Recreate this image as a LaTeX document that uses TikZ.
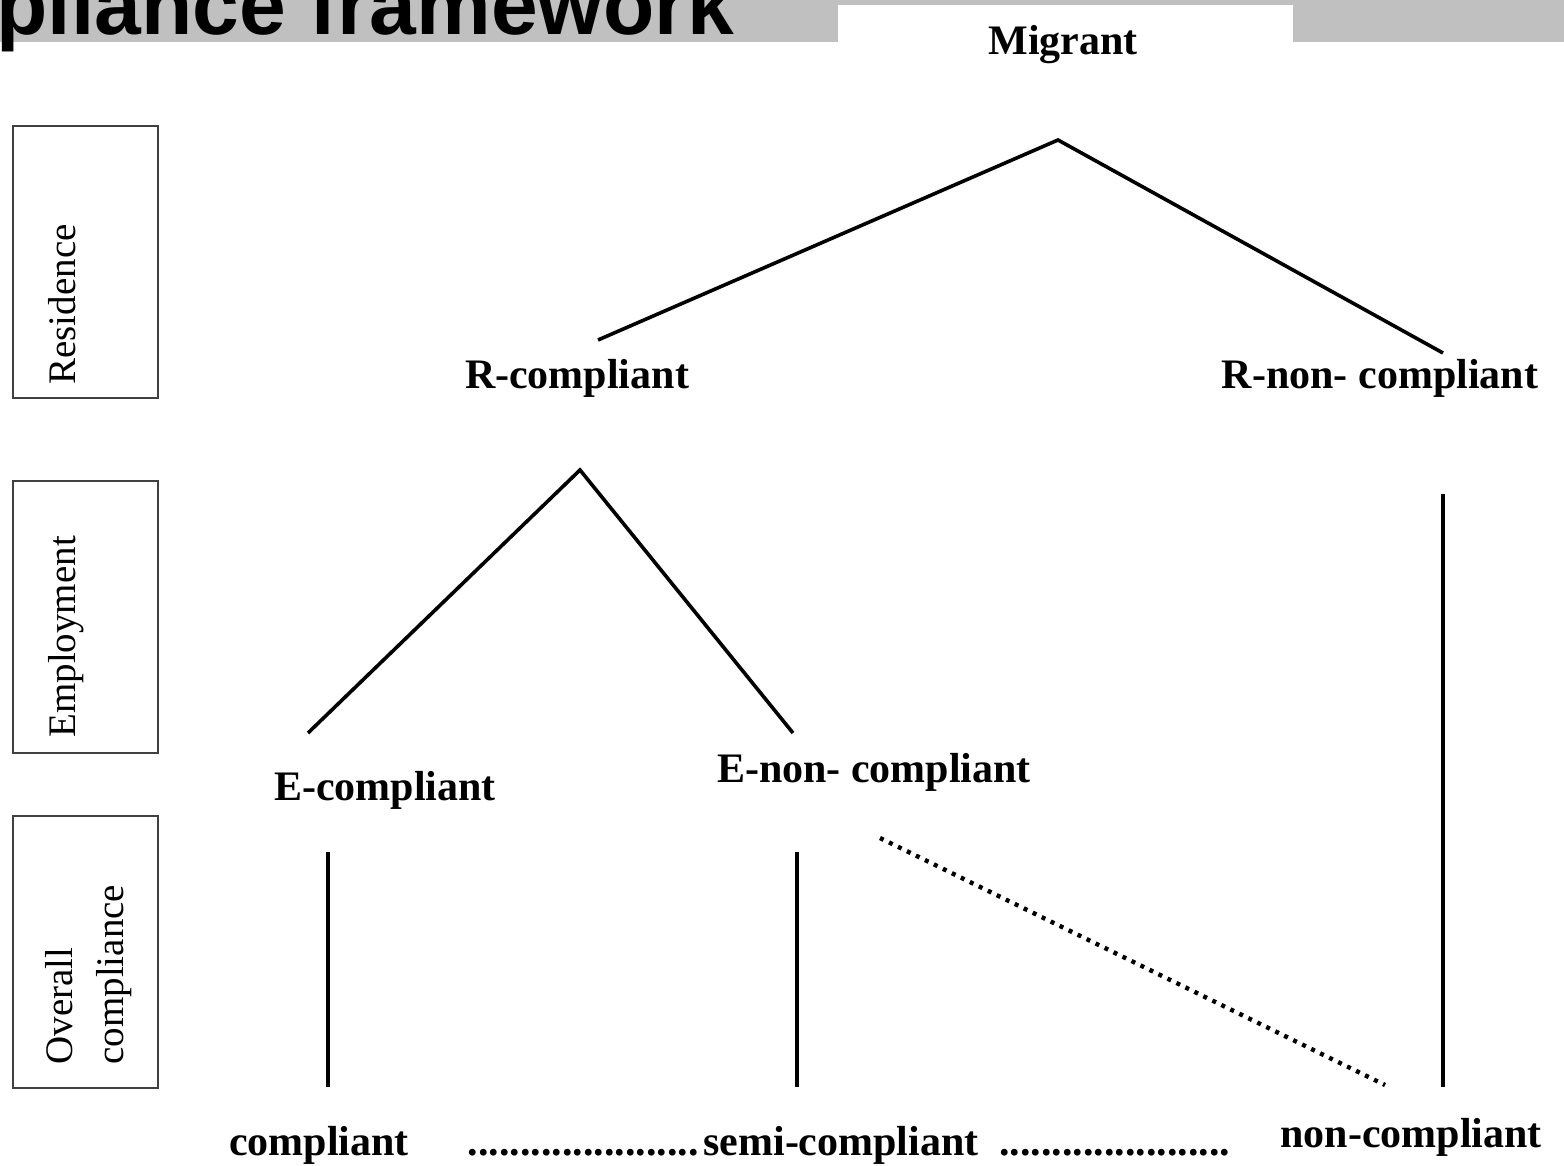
\documentclass[tikz,border=0pt]{standalone}
\usepackage{fontspec}
\setmainfont{Liberation Serif}
\newfontfamily\headfont{Liberation Sans}
\usetikzlibrary{positioning, calc}
\definecolor{bandgray}{HTML}{C0C0C0}
\definecolor{boxgray}{HTML}{404040}

\begin{document}
\begin{tikzpicture}[
    x=0.5pt, y=-0.5pt,
    level/.style={
        inner sep=0pt,
        anchor=base,
        font=\bfseries\fontsize{21}{25}\selectfont
    },
    side/.style={
        rectangle,
        draw=boxgray,
        line width=1pt,
        minimum width=72.5pt,
        minimum height=136pt,
        anchor=north west
    },
    sidetext/.style={
        rotate=90,
        anchor=north west,
        inner sep=0pt,
        align=left,
        font=\fontsize{19.5}{25.5}\selectfont
    },
    branch/.style={draw=black, line width=1.8pt, line join=miter},
    drift/.style={draw=black, line width=2.2pt, dash pattern=on 2pt off 3pt}
]
    \clip (0,0) rectangle (1564,1166);
    \fill [bandgray] (0,0) rectangle (1564,42);
    \fill [white] (838,5) rectangle (1293,113);
    \node [inner sep=0pt, anchor=base west, font=\headfont\bfseries\fontsize{42}{46}\selectfont] (title) at (-4,35) {pliance framework};

    \node [side] (resbox) at (12,125) {};
    \node [side] (empbox) at (12,480) {};
    \node [side] (allbox) at (12,815) {};
    \node [sidetext] (reslbl) at ([shift={(36,-14)}]resbox.south west) {Residence};
    \node [sidetext] (emplbl) at ([shift={(36,-16)}]empbox.south west) {Employment};
    \node [sidetext] (alllbl) at ([shift={(33,-24)}]allbox.south west) {Overall\\compliance};

    \node [level] (migrant) at (1063,55) {Migrant};
    \node [level] (rcomp) at (577,388) {R-compliant};
    \node [level] (rnon) at (1380,388) {R-non- compliant};
    \node [level] (ecomp) at (385,800) {E-compliant};
    \node [level] (enon) at (874,782) {E-non- compliant};
    \node [level] (comp) at (319,1155) {compliant};
    \node [level] (semi) at (841,1155) {semi-compliant};
    \node [level] (noncomp) at (1411,1147) {non-compliant};
    \node [level, anchor=base east] (leadA) at ([xshift=-2]semi.base west) {......................};
    \node [level, anchor=base west] (leadB) at ([xshift=10]semi.base east) {......................};

    \path [branch] ([shift={(21,-48)}]rcomp.base) -- ([shift={(-5,85)}]migrant.base) -- ([shift={(63,-35)}]rnon.base);
    \path [branch] ([shift={(-77,-67)}]ecomp.base) -- ([shift={(3,82)}]rcomp.base) -- ([shift={(-81,-49)}]enon.base);
    \path [branch] ([shift={(-57,52)}]ecomp.base) -- ([shift={(9,-68)}]comp.base);
    \path [branch] ([shift={(-77,70)}]enon.base) -- ([shift={(-44,-68)}]semi.base);
    \path [branch] ([shift={(63,106)}]rnon.base) -- ([shift={(32,-60)}]noncomp.base);
    \path [drift] ([shift={(6,56)}]enon.base) -- ([shift={(-26,-62)}]noncomp.base);
\end{tikzpicture}
\end{document}
